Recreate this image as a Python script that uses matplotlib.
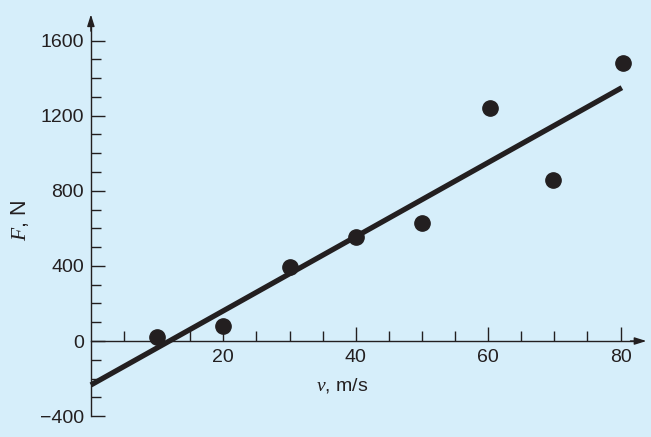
import numpy as np
import matplotlib
matplotlib.use("Agg")
import matplotlib.pyplot as plt
from matplotlib.ticker import FixedLocator

# Data (velocity m/s, force N)
v = [10, 20, 30, 40, 50, 60.3, 69.8, 80.4]
F = [23, 81, 396, 555, 630, 1239, 857, 1482]
# best-fit line end points as drawn
fit_v = [0, 80.2]
fit_F = [-234, 1349]
x_major = [20, 40, 60, 80]
y_major = [-400, 0, 400, 800, 1200, 1600]
y_labels = ['\u2212400', '0', '400', '800', '1200', '1600']

plt.rcParams['font.family'] = ['Liberation Sans', 'DejaVu Sans']
plt.rcParams['mathtext.fontset'] = 'custom'
plt.rcParams['mathtext.it'] = 'Liberation Serif:italic'
plt.rcParams['mathtext.rm'] = 'Liberation Sans'

bg = '#d6eefa'
ink = '#231f20'

fig = plt.figure(figsize=(6.51, 4.37), dpi=100, facecolor=bg)
ax = fig.add_axes([0, 0, 1, 1], facecolor=bg)

ax.set_xlim(-13.73, 84.6)
ax.set_ylim(-511, 1815.8)

ax.plot(fit_v, fit_F, color=ink, lw=3.8, solid_capstyle='butt', zorder=3)
ax.plot(v, F, 'o', color=ink, markersize=11, zorder=4)

for s in ['top', 'right']:
    ax.spines[s].set_visible(False)
ax.spines['left'].set_position(('data', 0))
ax.spines['bottom'].set_position(('data', 0))
ax.spines['left'].set_bounds(-400, 1700)
ax.spines['bottom'].set_bounds(0, 82.5)
for s in ['left', 'bottom']:
    ax.spines[s].set_color(ink)
    ax.spines[s].set_linewidth(1.0)

ax.annotate('', xy=(83.9, 0), xytext=(81.5, 0),
            arrowprops=dict(arrowstyle='-|>,head_length=0.7,head_width=0.22',
                            color=ink, lw=1.0, shrinkA=0, shrinkB=0))
ax.annotate('', xy=(0, 1739), xytext=(0, 1650),
            arrowprops=dict(arrowstyle='-|>,head_length=0.7,head_width=0.22',
                            color=ink, lw=1.0, shrinkA=0, shrinkB=0))

ax.xaxis.set_major_locator(FixedLocator(x_major))
ax.xaxis.set_minor_locator(FixedLocator([x for x in range(5, 80, 5) if x not in x_major]))
ax.yaxis.set_major_locator(FixedLocator(y_major))
ax.yaxis.set_minor_locator(FixedLocator([y for y in range(-300, 1600, 100) if y not in y_major]))

ax.tick_params(axis='both', which='major', direction='in', length=10, width=1.0,
               color=ink, labelcolor=ink, labelsize=14)
ax.tick_params(axis='both', which='minor', direction='in', length=7, width=1.0, color=ink)
ax.tick_params(axis='x', which='major', pad=6)
ax.tick_params(axis='y', which='major', pad=5)
ax.set_yticklabels(y_labels)

ax.text(38, -235, r'$\mathit{v}$, m/s', ha='center', va='center', fontsize=14, color=ink)
ax.text(-10.7, 644, r'$\mathit{F}$, N', ha='center', va='center', fontsize=15.5,
        color=ink, rotation=90)

fig.savefig('out.png', dpi=100, facecolor=bg)
